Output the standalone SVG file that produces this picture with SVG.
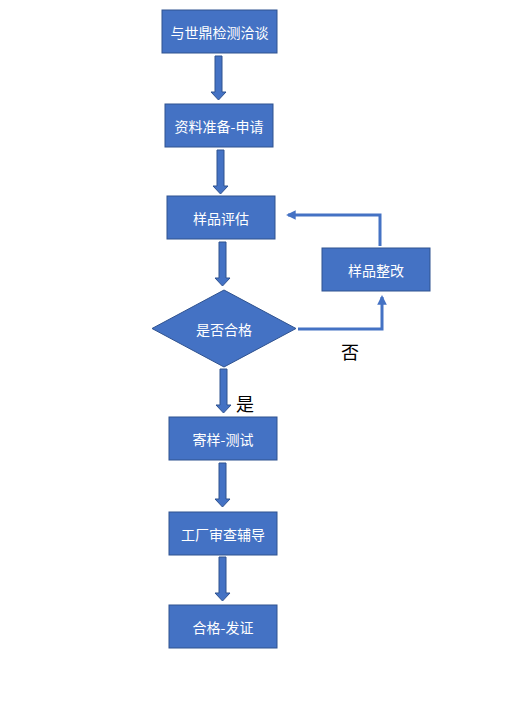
<svg xmlns="http://www.w3.org/2000/svg" width="508" height="720" viewBox="0 0 508 720">
<style>
.box{fill:#4472C4;stroke:#2F528F;stroke-width:1}
.t{fill:#fff;font-family:"Noto Sans CJK SC","Liberation Sans",sans-serif;font-size:14px;text-anchor:middle;dominant-baseline:central}
.lbl{fill:#000;font-family:"Noto Sans CJK SC","Liberation Sans",sans-serif;font-size:18px;text-anchor:middle;dominant-baseline:central}
.ba{fill:#4472C4;stroke:#2F528F;stroke-width:1}
.ln{fill:none;stroke:#4472C4;stroke-width:3}
</style>
<defs>
<marker id="ah" viewBox="0 0 10 10" refX="8" refY="5" markerWidth="3.2" markerHeight="3.2" orient="auto" markerUnits="strokeWidth">
<path d="M0,0 L10,5 L0,10 z" fill="#4472C4"/>
</marker>
</defs>
<rect width="508" height="720" fill="#fff"/>
<g id="connectors">
<path class="ba" d="M215,56 h7 v36 h4 l-7.5,8 l-7.5,-8 h4 z"/>
<path class="ba" d="M217,150 h7 v36 h4 l-7.5,8 l-7.5,-8 h4 z"/>
<path class="ba" d="M219,242 h7 v36 h4 l-7.5,8 l-7.5,-8 h4 z"/>
<path class="ba" d="M220,369 h7 v36 h4 l-7.5,8 l-7.5,-8 h4 z"/>
<path class="ba" d="M219,463 h7 v36 h4 l-7.5,8 l-7.5,-8 h4 z"/>
<path class="ba" d="M219,557 h7 v36 h4 l-7.5,8 l-7.5,-8 h4 z"/>
<path class="ln" d="M298,329 H382 V297" marker-end="url(#ah)"/>
<path class="ln" d="M380,246 V215 H288" marker-end="url(#ah)"/>
<text class="lbl" x="350" y="351">否</text>
<text class="lbl" x="245" y="403">是</text>
</g>
<g id="n1"><rect class="box" x="162" y="10" width="115" height="43"/><text class="t" x="219.5" y="31.5">与世鼎检测洽谈</text></g>
<g id="n2"><rect class="box" x="165" y="104" width="108" height="43"/><text class="t" x="219" y="125.5">资料准备-申请</text></g>
<g id="n3"><rect class="box" x="167" y="196" width="108" height="43"/><text class="t" x="221" y="217.5">样品评估</text></g>
<g id="n4"><polygon class="box" points="224,290 296,328.5 224,367 152,328.5"/><text class="t" x="224" y="328.5">是否合格</text></g>
<g id="n5"><rect class="box" x="322" y="248" width="108" height="43"/><text class="t" x="376" y="269.5">样品整改</text></g>
<g id="n6"><rect class="box" x="169" y="417" width="108" height="43"/><text class="t" x="223" y="438.5">寄样-测试</text></g>
<g id="n7"><rect class="box" x="169" y="512" width="108" height="43"/><text class="t" x="223" y="533.5">工厂审查辅导</text></g>
<g id="n8"><rect class="box" x="169" y="605" width="108" height="43"/><text class="t" x="223" y="626.5">合格-发证</text></g>
</svg>
